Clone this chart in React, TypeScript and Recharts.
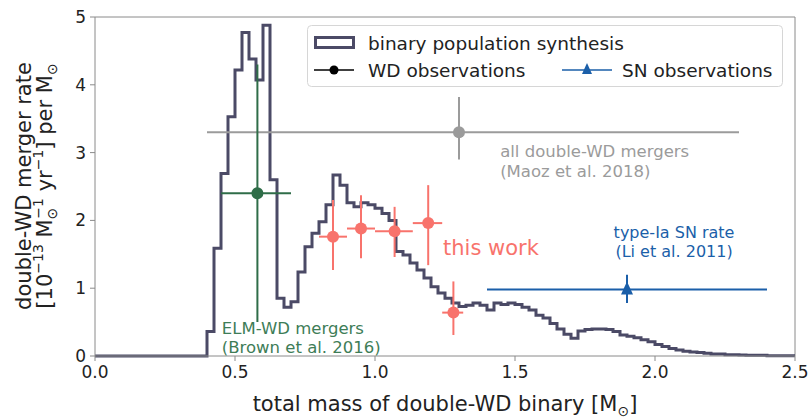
import React from 'react'
import {
  ComposedChart,
  Line,
  Scatter,
  ErrorBar,
  XAxis,
  YAxis,
  ReferenceLine,
  ReferenceDot,
} from 'recharts'

const FONT = '"DejaVu Sans", Verdana, sans-serif'

// binary population synthesis histogram, 0.025 Msun bins starting at 0
const BIN_WIDTH = 0.025
const synthRate = [
  0, 0, 0, 0, 0, 0, 0, 0, 0, 0, 0, 0, 0, 0, 0, 0, // 0.000 - 0.400
  0.36, 1.59, 2.69, 3.53, 4.22, 4.77, 4.38, 4.07, 4.88, 2.6, // 0.400 -
  0.85, 0.72, 0.8, 1.24, 1.61, 1.81, 1.98, 2.23, 2.67, 2.52, // 0.650 -
  2.26, 2.2, 2.26, 2.23, 2.18, 2.1, 2.0, 1.54, 1.49, 1.37, // 0.900 -
  1.27, 1.15, 1.02, 0.93, 0.85, 0.78, 0.73, 0.75, 0.78, 0.75, // 1.150 -
  0.68, 0.78, 0.76, 0.78, 0.76, 0.72, 0.68, 0.6, 0.56, 0.48, // 1.400 -
  0.4, 0.32, 0.26, 0.37, 0.39, 0.4, 0.4, 0.39, 0.36, 0.31, // 1.650 -
  0.29, 0.27, 0.24, 0.21, 0.17, 0.14, 0.11, 0.09, 0.07, 0.06, // 1.900 -
  0.05, 0.04, 0.03, 0.03, 0.02, 0.02, 0.015, 0.01, 0.01, 0.01, // 2.150 -
  0.005, 0.005, 0.003, 0.003, // 2.400 - 2.500
]

// this work (red)
const thisWorkMass = [0.85, 0.95, 1.07, 1.19, 1.28]
const thisWorkRate = [1.76, 1.88, 1.84, 1.96, 0.64]
const thisWorkMassRange = [[0.8, 0.9], [0.9, 1.0], [1.0, 1.135], [1.135, 1.24], [1.24, 1.315]]
const thisWorkRateRange = [[1.27, 2.3], [1.44, 2.37], [1.46, 2.2], [1.34, 2.52], [0.31, 1.1]]

// ELM-WD mergers, Brown et al. 2016 (green)
const elmMass = [0.58]
const elmRate = [2.4]
const elmMassRange = [[0.45, 0.7]]
const elmRateRange = [[0.5, 4.3]]

// all double-WD mergers, Maoz et al. 2018 (grey)
const maozMass = [1.3]
const maozRate = [3.3]
const maozMassRange = [[0.4, 2.3]]
const maozRateRange = [[2.9, 3.82]]

// type-Ia SN rate, Li et al. 2011 (blue)
const snMass = [1.9]
const snRate = [0.98]
const snMassRange = [[1.4, 2.4]]
const snRateRange = [[0.78, 1.2]]

const xTicks = [0, 0.5, 1, 1.5, 2, 2.5]
const yTicks = [0, 1, 2, 3, 4, 5]

const HIST = '#4b4a66'
const RED = '#f8736c'
const GREY = '#9b9b9b'
const GREEN = '#2f6d48'
const GREEN_TEXT = '#3e7d57'
const BLUE = '#1b5fa9'
const SPINE = '#8a8a8a'

const histData = [
  ...synthRate.map((r, i) => ({ mass: i * BIN_WIDTH, rate: r })),
  { mass: synthRate.length * BIN_WIDTH, rate: synthRate[synthRate.length - 1] },
]

function toPoints(mass: number[], rate: number[], mr: number[][], rr: number[][]) {
  return mass.map((m, i) => ({
    mass: m,
    rate: rate[i],
    xErr: [m - mr[i][0], mr[i][1] - m],
    yErr: [rate[i] - rr[i][0], rr[i][1] - rate[i]],
  }))
}

const thisWork = toPoints(thisWorkMass, thisWorkRate, thisWorkMassRange, thisWorkRateRange)
const elm = toPoints(elmMass, elmRate, elmMassRange, elmRateRange)
const maoz = toPoints(maozMass, maozRate, maozMassRange, maozRateRange)
const sn = toPoints(snMass, snRate, snMassRange, snRateRange)

const dot = (color: string, r: number) => (p: any) => (
  <circle cx={p.cx} cy={p.cy} r={r} fill={color} />
)

const triangle = (p: any) => (
  <path d={`M${p.cx},${p.cy - 8} L${p.cx + 6},${p.cy + 5} L${p.cx - 6},${p.cy + 5} Z`} fill={BLUE} />
)

// annotation text drawn at a data position
const note = (lines: string[], color: string, size: number, anchor: 'start' | 'middle' = 'start') => (p: any) => (
  <text x={p.cx} y={p.cy} fill={color} fontSize={size} fontFamily={FONT} textAnchor={anchor}>
    {lines.map((l, i) => (
      <tspan key={i} x={p.cx} dy={i === 0 ? 0 : size * 1.2}>{l}</tspan>
    ))}
  </text>
)

const YLabel = () => (
  <g fontFamily={FONT} fontSize={21} fill="#222">
    <text transform="translate(31,186) rotate(-90)" textAnchor="middle">double-WD merger rate</text>
    <text transform="translate(52,186) rotate(-90)" textAnchor="middle">
      <tspan>[10</tspan>
      <tspan fontSize={14} dy={-9}>−13</tspan>
      <tspan dy={9}> M</tspan>
      <tspan fontSize={14} dy={5}>⊙</tspan>
      <tspan fontSize={14} dx={-11} dy={-14}>−1</tspan>
      <tspan dy={9}> yr</tspan>
      <tspan fontSize={14} dy={-9}>−1</tspan>
      <tspan dy={9}>] per M</tspan>
      <tspan fontSize={14} dy={5}>⊙</tspan>
    </text>
  </g>
)

const XLabel = () => (
  <text x={445} y={411} textAnchor="middle" fontFamily={FONT} fontSize={21} fill="#222">
    <tspan>total mass of double-WD binary [M</tspan>
    <tspan fontSize={14} dy={5}>⊙</tspan>
    <tspan dy={-5}>]</tspan>
  </text>
)

function LegendBox() {
  return (
    <svg width={477} height={63} style={{ position: 'absolute', left: 307, top: 25 }}>
      <rect x={0.5} y={0.5} width={475} height={61} rx={4} fill="#fff" fillOpacity={0.85} stroke="#d6d6d6" />
      <rect x={8.5} y={12.5} width={38} height={10} fill="none" stroke={HIST} strokeWidth={3} />
      <text x={61} y={25} fontFamily={FONT} fontSize={18.5} fill="#222">binary population synthesis</text>
      <line x1={7} x2={47} y1={45} y2={45} stroke="#000" strokeWidth={1.5} />
      <circle cx={27} cy={45} r={4.5} fill="#000" />
      <text x={61} y={52} fontFamily={FONT} fontSize={18.5} fill="#222">WD observations</text>
      <line x1={255} x2={305} y1={45} y2={45} stroke={BLUE} strokeWidth={1.5} />
      <path d="M280,38 L285,49 L275,49 Z" fill={BLUE} />
      <text x={315} y={52} fontFamily={FONT} fontSize={18.5} fill="#222">SN observations</text>
    </svg>
  )
}

export default function App() {
  return (
    <div style={{ position: 'absolute', left: 0, top: 0, width: 809, height: 418, background: '#fff' }}>
      <ComposedChart
        width={809}
        height={418}
        margin={{ top: 17, right: 14, bottom: 32, left: 65 }}
      >
        <XAxis
          dataKey="mass"
          type="number"
          domain={[0, 2.5]}
          ticks={xTicks}
          tickFormatter={(v: number) => v.toFixed(1)}
          height={30}
          stroke={SPINE}
          tickSize={5}
          tickMargin={5}
          tick={{ fill: '#222', fontSize: 17, fontFamily: FONT }}
          label={{ content: XLabel }}
        />
        <YAxis
          dataKey="rate"
          type="number"
          domain={[0, 5]}
          ticks={yTicks}
          width={30}
          stroke={SPINE}
          tickSize={5}
          tickMargin={4}
          tick={{ fill: '#222', fontSize: 17, fontFamily: FONT }}
          label={{ content: YLabel }}
        />
        <ReferenceLine y={5} stroke={SPINE} />
        <ReferenceLine x={2.5} stroke={SPINE} />

        <Line
          data={histData}
          dataKey="rate"
          type="stepAfter"
          stroke={HIST}
          strokeWidth={3}
          dot={false}
          activeDot={false}
          isAnimationActive={false}
        />

        <Scatter data={maoz} dataKey="rate" shape={dot(GREY, 6)} isAnimationActive={false}>
          <ErrorBar dataKey="xErr" direction="x" width={0} stroke={GREY} strokeWidth={2} />
          <ErrorBar dataKey="yErr" direction="y" width={0} stroke={GREY} strokeWidth={2} />
        </Scatter>
        <Scatter data={elm} dataKey="rate" shape={dot(GREEN, 6)} isAnimationActive={false}>
          <ErrorBar dataKey="xErr" direction="x" width={0} stroke={GREEN} strokeWidth={2} />
          <ErrorBar dataKey="yErr" direction="y" width={0} stroke={GREEN} strokeWidth={2} />
        </Scatter>
        <Scatter data={thisWork} dataKey="rate" shape={dot(RED, 6)} isAnimationActive={false}>
          <ErrorBar dataKey="xErr" direction="x" width={0} stroke={RED} strokeWidth={2} />
          <ErrorBar dataKey="yErr" direction="y" width={0} stroke={RED} strokeWidth={2} />
        </Scatter>
        <Scatter data={sn} dataKey="rate" shape={triangle} isAnimationActive={false}>
          <ErrorBar dataKey="xErr" direction="x" width={0} stroke={BLUE} strokeWidth={2} />
          <ErrorBar dataKey="yErr" direction="y" width={0} stroke={BLUE} strokeWidth={2} />
        </Scatter>

        <ReferenceDot x={1.447} y={2.93} r={0} shape={note(['all double-WD mergers', '(Maoz et al. 2018)'], GREY, 16.5)} />
        <ReferenceDot x={1.243} y={1.49} r={0} shape={note(['this work'], RED, 21)} />
        <ReferenceDot x={2.068} y={1.74} r={0} shape={note(['type-Ia SN rate', '(Li et al. 2011)'], BLUE, 16, 'middle')} />
        <ReferenceDot x={0.453} y={0.33} r={0} shape={note(['ELM-WD mergers', '(Brown et al. 2016)'], GREEN_TEXT, 16.5)} />
      </ComposedChart>
      <LegendBox />
    </div>
  )
}
